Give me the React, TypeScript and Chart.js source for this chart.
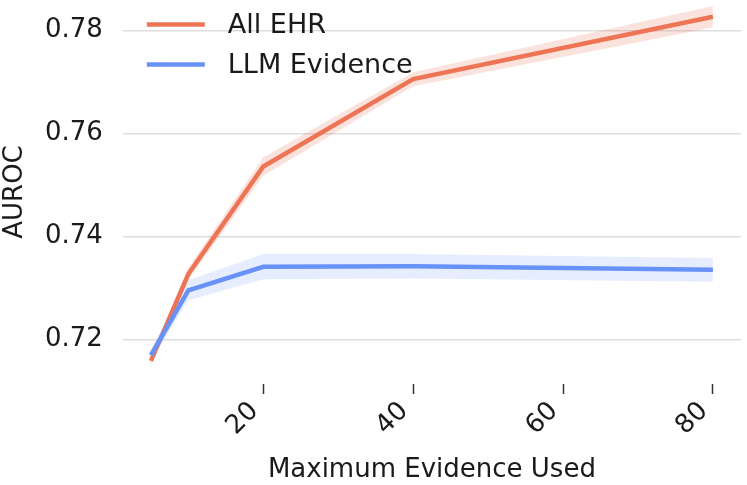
import React, { useEffect, useRef } from "react";
import { Chart, registerables } from "chart.js";

Chart.register(...registerables);

// ---- data ----
const xValues = [5, 10, 20, 40, 80];
const xTickValues = [20, 40, 60, 80];
const yTickValues = [0.72, 0.74, 0.76, 0.78];
const seriesNames = ["All EHR", "LLM Evidence"];

const allEhrMean = [0.7158, 0.7327, 0.7536, 0.7706, 0.7827];
const allEhrLower = [0.715, 0.7316, 0.7518, 0.7692, 0.7806];
const allEhrUpper = [0.7166, 0.7339, 0.7554, 0.7719, 0.7848];

const llmMean = [0.7169, 0.7295, 0.7341, 0.7342, 0.7335];
const llmLower = [0.7158, 0.7276, 0.7317, 0.7318, 0.7312];
const llmUpper = [0.718, 0.7315, 0.7366, 0.7366, 0.7358];

const xAxisTitle = "Maximum Evidence Used";
const yAxisTitle = "AUROC";

// ---- styles ----
const ORANGE = "rgb(237,117,86)";
const ORANGE_BAND = "rgba(237,117,86,0.2)";
const BLUE = "rgb(104,146,247)";
const BLUE_BAND = "rgba(104,146,247,0.17)";
const TEXT = "#1a1a1a";
const FONT = "'DejaVu Sans', sans-serif";

const toPoints = (ys: number[]) => xValues.map((x, i) => ({ x, y: ys[i] }));

const legendPlugin = {
  id: "insideLegend",
  afterDraw(chart: any) {
    const ctx = chart.ctx as CanvasRenderingContext2D;
    const area = chart.chartArea;
    const items = [
      { label: seriesNames[0], color: ORANGE },
      { label: seriesNames[1], color: BLUE },
    ];
    ctx.save();
    items.forEach((it, i) => {
      const y = area.top + 24.5 + i * 40;
      const x0 = area.left + 24;
      ctx.strokeStyle = it.color;
      ctx.lineWidth = 4.5;
      ctx.lineCap = "butt";
      ctx.beginPath();
      ctx.moveTo(x0, y);
      ctx.lineTo(x0 + 58, y);
      ctx.stroke();
      ctx.fillStyle = TEXT;
      ctx.font = `27px ${FONT}`;
      ctx.textBaseline = "middle";
      ctx.textAlign = "left";
      ctx.fillText(it.label, x0 + 81, y + 1);
    });
    ctx.restore();
  },
};

export default function App() {
  const canvasRef = useRef<HTMLCanvasElement | null>(null);

  useEffect(() => {
    if (!canvasRef.current) return;
    Chart.defaults.font.family = FONT;
    const chart = new Chart(canvasRef.current, {
      type: "line",
      data: {
        datasets: [
          {
            label: "allEhrLower",
            data: toPoints(allEhrLower),
            borderWidth: 0,
            pointRadius: 0,
            fill: false,
            order: 3,
          },
          {
            label: "allEhrUpper",
            data: toPoints(allEhrUpper),
            borderWidth: 0,
            pointRadius: 0,
            backgroundColor: ORANGE_BAND,
            fill: 0,
            order: 3,
          },
          {
            label: "llmLower",
            data: toPoints(llmLower),
            borderWidth: 0,
            pointRadius: 0,
            fill: false,
            order: 2,
          },
          {
            label: "llmUpper",
            data: toPoints(llmUpper),
            borderWidth: 0,
            pointRadius: 0,
            backgroundColor: BLUE_BAND,
            fill: 2,
            order: 2,
          },
          {
            label: seriesNames[0],
            data: toPoints(allEhrMean),
            borderColor: ORANGE,
            borderWidth: 4.5,
            pointRadius: 0,
            fill: false,
            tension: 0,
            order: 1,
          },
          {
            label: seriesNames[1],
            data: toPoints(llmMean),
            borderColor: BLUE,
            borderWidth: 4.5,
            pointRadius: 0,
            fill: false,
            tension: 0,
            order: 0,
          },
        ],
      },
      options: {
        animation: false,
        responsive: true,
        maintainAspectRatio: false,
        layout: { padding: { top: 0, left: 0, right: 6, bottom: 0 } },
        plugins: {
          legend: { display: false },
          tooltip: { enabled: false },
        },
        scales: {
          x: {
            type: "linear",
            min: 1.25,
            max: 83.75,
            afterBuildTicks: (scale: any) => {
              scale.ticks = xTickValues.map((v) => ({ value: v }));
            },
            afterFit: (scale: any) => {
              scale.height = 101;
              scale.paddingTop = 0;
              scale.paddingBottom = 0;
              scale.paddingLeft = 0;
              scale.paddingRight = 0;
            },
            grid: {
              drawOnChartArea: false,
              drawTicks: true,
              tickLength: 10,
              tickColor: "#333",
              tickWidth: 1.5,
            },
            border: { display: false },
            ticks: {
              minRotation: 45,
              maxRotation: 45,
              padding: 2,
              labelOffset: -9,
              color: TEXT,
              font: { size: 26 },
              callback: (v: any) => String(v),
            },
            title: {
              display: true,
              text: xAxisTitle,
              color: TEXT,
              font: { size: 26 },
              padding: { top: 0, bottom: -1 },
            },
          },
          y: {
            type: "linear",
            min: 0.71131,
            max: 0.78597,
            afterBuildTicks: (scale: any) => {
              scale.ticks = yTickValues.map((v) => ({ value: v }));
            },
            afterFit: (scale: any) => {
              scale.width = 122.8;
              scale.paddingTop = 0;
              scale.paddingBottom = 0;
              scale.paddingLeft = 0;
              scale.paddingRight = 0;
            },
            grid: {
              color: "#dddddd",
              lineWidth: 1.4,
              drawTicks: false,
            },
            border: { display: false },
            ticks: {
              padding: 20,
              color: TEXT,
              font: { size: 26 },
              callback: (v: any) => Number(v).toFixed(2),
            },
            title: {
              display: true,
              text: yAxisTitle,
              color: TEXT,
              font: { size: 26 },
              padding: { top: 0, bottom: 0 },
            },
          },
        },
      },
      plugins: [legendPlugin],
    });
    return () => chart.destroy();
  }, []);

  return (
    <div style={{ position: "fixed", left: 0, top: 0, width: 747, height: 485, background: "#fff" }}>
      <canvas ref={canvasRef} />
    </div>
  );
}
